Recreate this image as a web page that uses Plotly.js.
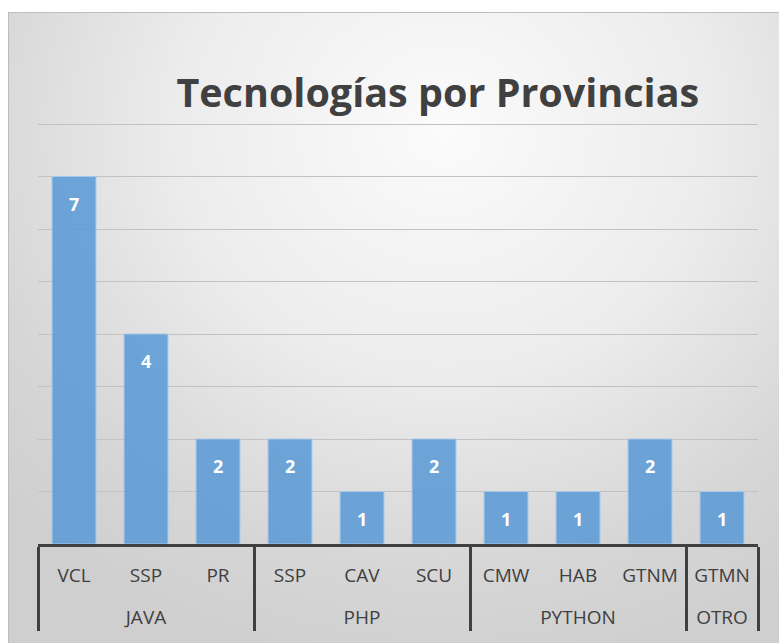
<!DOCTYPE html>
<html>
<head>
<meta charset="utf-8">
<script src="https://cdn.plot.ly/plotly-3.0.1.min.js"></script>
<style>
  html, body { margin: 0; padding: 0; background: #ffffff; }
  #frame {
    position: absolute; left: 8px; top: 12px; width: 790px; height: 650px;
    border: 1px solid #bdbdbd;
    background: radial-gradient(ellipse 75% 85% at 55% 18%, #fbfbfb 0%, #ececec 45%, #d6d6d6 80%, #cfcfcf 100%);
  }
  #chart { position: absolute; left: 0; top: 0; width: 779px; height: 643px; }
</style>
</head>
<body>
<div id="frame"></div>
<div id="chart"></div>
<script>
const groups = ["JAVA", "JAVA", "JAVA", "PHP", "PHP", "PHP", "PYTHON", "PYTHON", "PYTHON", "OTRO"];
const provinces = ["VCL", "SSP", "PR", "SSP", "CAV", "SCU", "CMW", "HAB", "GTNM", "GTMN"];
const values = [7, 4, 2, 2, 1, 2, 1, 1, 2, 1];
const chartTitle = "Tecnologías por Provincias";

const trace = {
  type: "bar",
  x: [groups, provinces.map(p => p + "<br><span style='font-size:23px'> </span>")],
  y: values,
  marker: { color: "rgba(91,155,213,0.88)", line: { color: "#a7c8e8", width: 1 } },
  hoverinfo: "none"
};

const annotations = values.map((v, i) => ({
  x: i, y: v, xref: "x", yref: "y",
  text: "<b>" + v + "</b>",
  showarrow: false,
  yanchor: "middle",
  yshift: -27,
  font: { family: "Open Sans, sans-serif", size: 18, color: "#ffffff" }
}));

const layout = {
  width: 779, height: 643,
  paper_bgcolor: "rgba(0,0,0,0)",
  plot_bgcolor: "rgba(0,0,0,0)",
  margin: { l: 38, r: 21, t: 123, b: 99 },
  bargap: 0.39,
  showlegend: false,
  title: {
    text: "<b>" + chartTitle + "</b>",
    x: 0.562, xanchor: "center", y: 0.855, yanchor: "middle",
    font: { family: "Open Sans, sans-serif", size: 39.5, color: "#404040" }
  },
  xaxis: {
    type: "multicategory",
    showline: true, linecolor: "#404040", linewidth: 3,
    showdividers: true, dividercolor: "#404040", dividerwidth: 3,
    ticks: "", showgrid: false,
    ticklabelstandoff: 12,
    tickfont: { family: "Open Sans, sans-serif", size: 19, color: "#404040" }
  },
  yaxis: {
    range: [0, 8.02], dtick: 1,
    showticklabels: false, showline: false, zeroline: false,
    showgrid: true, gridcolor: "#c2c2c2", gridwidth: 1
  },
  annotations: annotations
};

Plotly.newPlot("chart", [trace], layout, { displayModeBar: false, staticPlot: true });
</script>
</body>
</html>
